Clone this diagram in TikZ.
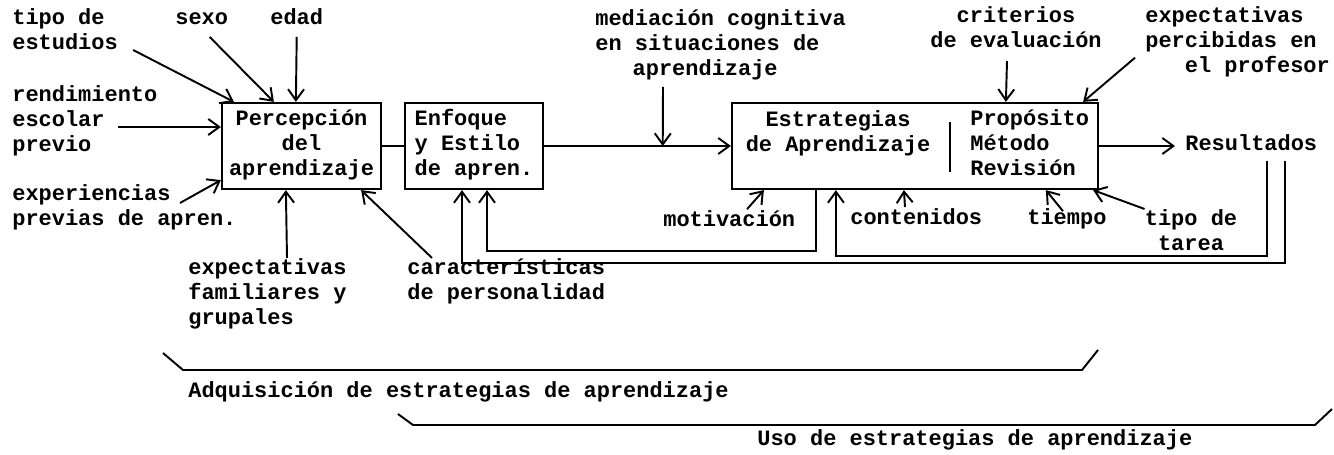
\documentclass[tikz,border=0pt]{standalone}
\usepackage{fontspec}
\setmonofont{Liberation Mono}
\usetikzlibrary{arrows.meta,calc}

\tikzset{
  stage/.style={draw, line width=1.3pt, minimum height=1.72cm, inner sep=0pt, align=center},
  factor/.style={inner sep=0pt, anchor=west, align=left},
  influence/.style={line width=1.1pt, -{Straight Barb[length=2.2mm,width=3.2mm]}},
  link/.style={line width=1.1pt},
}

\begin{document}
\begin{tikzpicture}[x=0.02cm, y=-0.02cm,
  font=\fontsize{12.5}{14.2}\selectfont\ttfamily\bfseries,
  execute at begin node=\strut, execute at end node=\strut]

  \useasboundingbox (0,0) rectangle (1334,455);

  % Define nodes
  \node[stage, minimum width=3.18cm]             (perc)  at (301.5,146) {Percepción\\del\\aprendizaje};
  \node[stage, minimum width=2.76cm, align=left] (enf)   at (474,146)   {Enfoque\\y Estilo\\de apren.};
  \node[stage, minimum width=7.32cm]             (estr)  at (915,146)   {};
  \node[inner sep=0pt, align=center]             (estrA) at (838,134.5) {Estrategias\\de Aprendizaje};
  \node[factor]                                  (estrB) at (970,146)   {Propósito\\Método\\Revisión};
  \draw[link] (950,122) -- (950,172);
  \node[factor] (resul) at (1185,146) {Resultados};

  \node[factor] (tipo)   at (12,32.5)   {tipo de\\estudios};
  \node[factor] (sexo)   at (175,20)    {sexo};
  \node[factor] (edad)   at (270,20)    {edad};
  \node[factor] (rend)   at (12,122)    {rendimiento\\escolar\\previo};
  \node[factor] (exper)  at (12,208.5)  {experiencias\\previas de apren.};
  \node[factor] (expfam) at (188,295)   {expectativas\\familiares y\\grupales};
  \node[factor] (caract) at (407,282.5) {características\\de personalidad};

  \node[factor] (mediac) at (595,46)    {mediación cognitiva\\en situaciones de\\\hspace*{1.7em}aprendizaje};
  \node[inner sep=0pt, align=center] (crit) at (1016,30.5) {criterios\\de evaluación};
  \node[factor] (expprof) at (1145,43.7) {expectativas\\percibidas en\\\hspace*{1.8em}el profesor};

  \node[factor] (motiv)  at (663,222)   {motivación};
  \node[factor] (conten) at (850,220)   {contenidos};
  \node[factor] (tiempo) at (1027,220)  {tiempo};
  \node[inner sep=0pt, align=center] (tarea) at (1191,233.5) {tipo de\\tarea};

  \node[factor] (adq) at (188,393) {Adquisición de estrategias de aprendizaje};
  \node[factor] (uso) at (757,441) {Uso de estrategias de aprendizaje};

  \coordinate (medpt) at ($(enf.east)!0.635!(estr.west)$);

  % Connect the nodes
  \draw[influence] ($(tipo.east)+(15,17.5)$) -- ($(perc.north west)+(13,0)$);
  \draw[influence] ($(sexo.center)+(8,17)$) -- ($(perc.north west)+(53,0)$);
  \draw[influence] ($(edad.south)+(0,4)$) -- ($(perc.north west)+(75,0)$);
  \draw[influence] ($(rend.west)+(106,5)$) -- ($(perc.west)+(0,-19)$);
  \draw[influence] ($(exper.west)+(168,-5.5)$) -- ($(perc.south west)+(0,-10)$);
  \draw[influence] ($(expfam.north west)+(99,0)$) -- ($(perc.south west)+(65,0)$);
  \draw[influence] ($(caract.north west)+(25,0)$) -- ($(perc.south east)+(-21,0)$);

  \draw[link] (perc) -- (enf);
  \draw[influence] (enf) -- (estr);
  \draw[influence] ($(mediac.south west)+(68,4)$) -- (medpt);

  \draw[influence] ($(crit.south)+(-9,6)$) -- ($(estr.north west)+(275,0)$);
  \draw[influence] ($(expprof.west)+(-10,14)$) -- ($(estr.north east)+(-16,0)$);
  \draw[influence, shorten >=0.2cm] (estr) -- (resul);

  \draw[influence] ($(motiv.north west)+(84,0)$) -- ($(estr.south west)+(33,0)$);
  \draw[influence] ($(conten.north west)+(55,0)$) -- ($(estr.south west)+(173,0)$);
  \draw[influence] ($(tiempo.north west)+(36,4)$) -- ($(estr.south west)+(315,0)$);
  \draw[influence] (tarea.north west) -- ($(estr.south east)+(-6,0)$);

  % feedback loops
  \draw[influence] ($(estr.south west)+(85,0)$) -- ++(0,61) -| ($(enf.south)+(13,0)$);
  \draw[influence] ($(resul.south west)+(82,2)$) |- ($(estr.south west)+(105,66)$) -- ($(estr.south west)+(105,0)$);
  \draw[influence] ($(resul.south west)+(100,2)$) |- ($(enf.south)+(-12,73)$) -- ($(enf.south)+(-12,0)$);

  % brackets
  \draw[link] (163,353) -- (183,370) -- (1082,370) -- (1098,350);
  \draw[link] (398,414) -- (413,425) -- (1315,425) -- (1332,409);

\end{tikzpicture}
\end{document}
